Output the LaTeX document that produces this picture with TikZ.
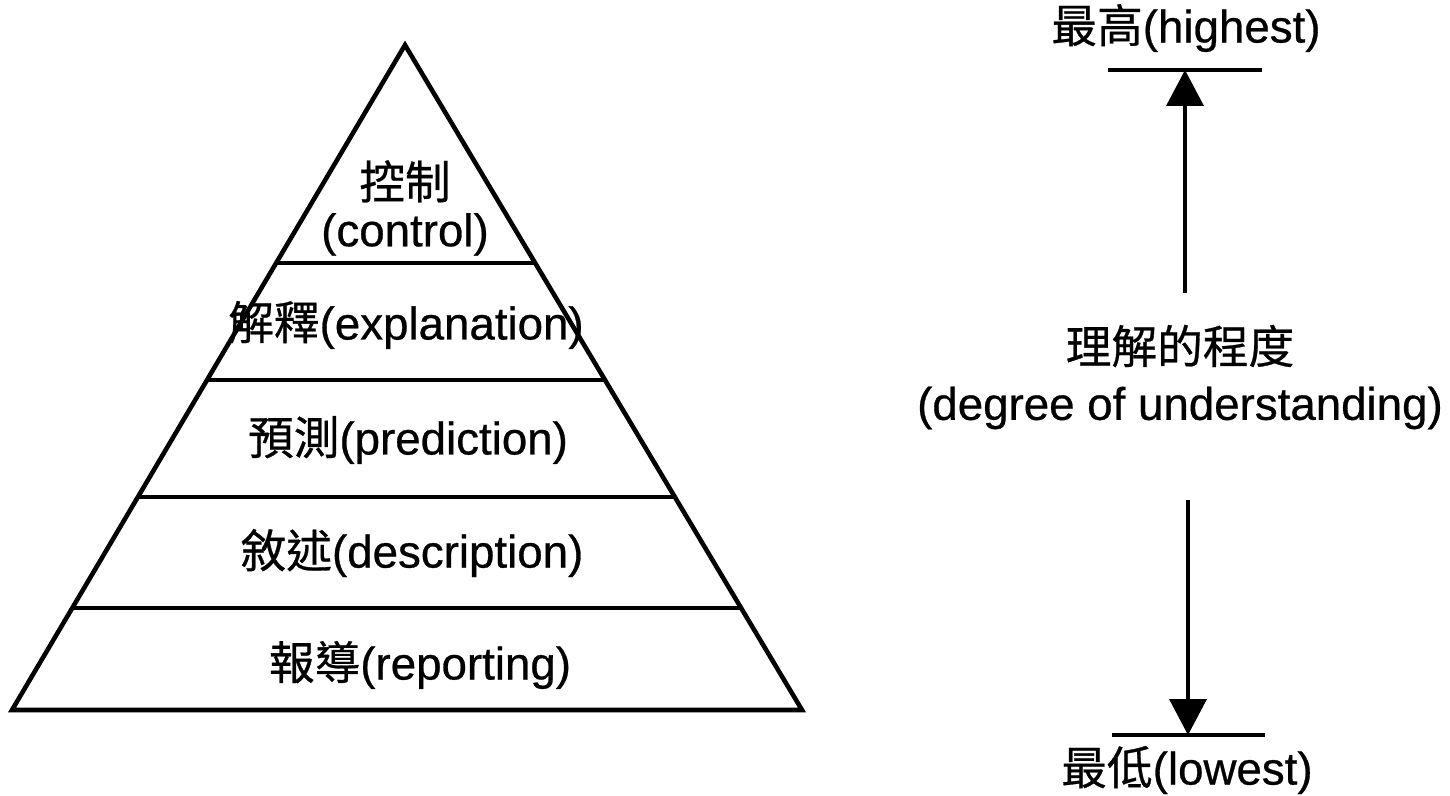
\documentclass[tikz,border=0pt]{standalone}
\usepackage{fontspec}
\usepackage{tikz}
\usetikzlibrary{arrows.meta,calc}
\setmainfont{Liberation Sans}[FakeBold=0.6]
\newfontfamily\cjk{Noto Sans CJK TC}[FakeBold=0.6]
\newcommand{\zh}[1]{{\cjk #1}}

\tikzset{
  lvl/.style = {line width=2.6pt},
  lbl/.style = {font=\fontsize{26}{27}\selectfont, align=center, inner sep=0pt},
  updown/.style = {line width=2.2pt, -{Triangle[length=0.72cm,width=0.74cm]}}
}

\begin{document}
\begin{tikzpicture}[x=0.02cm, y=-0.02cm]
      \useasboundingbox (0,0) rectangle (1450,795);

      % pyramid
      \coordinate (apex) at (405,45);
      \coordinate (bl) at (12,710);
      \coordinate (br) at (802,710);
      \draw[lvl, line join=miter] (apex) -- (bl) -- (br) -- cycle;
      \foreach \t in {0.3278,0.5038,0.6797,0.8466}
        \draw[lvl] ($(apex)!\t!(bl)$) -- ($(apex)!\t!(br)$);

      \node[lbl] (ctrl) at (405,208) {\zh{控制}\\(control)};
      \node[lbl] (expl) at (406,325) {\zh{解釋}(explanation)};
      \node[lbl] (pred) at (408,440) {\zh{預測}(prediction)};
      \node[lbl] (desc) at (412,553) {\zh{敘述}(description)};
      \node[lbl] (repo) at (420,665) {\zh{報導}(reporting)};

      % scale of understanding
      \node[lbl] (high) at (1186,28) {\zh{最高}(highest)};
      \node[lbl] (midzh) at (1180,346) {\zh{理解的程度}};
      \node[lbl] (miden) at (1180,408) {(degree of understanding)};
      \node[lbl] (low) at (1187,770) {\zh{最低}(lowest)};

      \coordinate (hitop) at (1185,70);
      \coordinate (upfrom) at (1185,293);
      \coordinate (lobot) at (1188,735);
      \coordinate (downfrom) at (1188,500);

      \draw[lvl] (1108,70) -- (1262,70);
      \draw[lvl] (1112,735) -- (1265,735);
      \draw[updown] (upfrom) -- (hitop);
      \draw[updown] (downfrom) -- (lobot);
    \end{tikzpicture}
\end{document}
